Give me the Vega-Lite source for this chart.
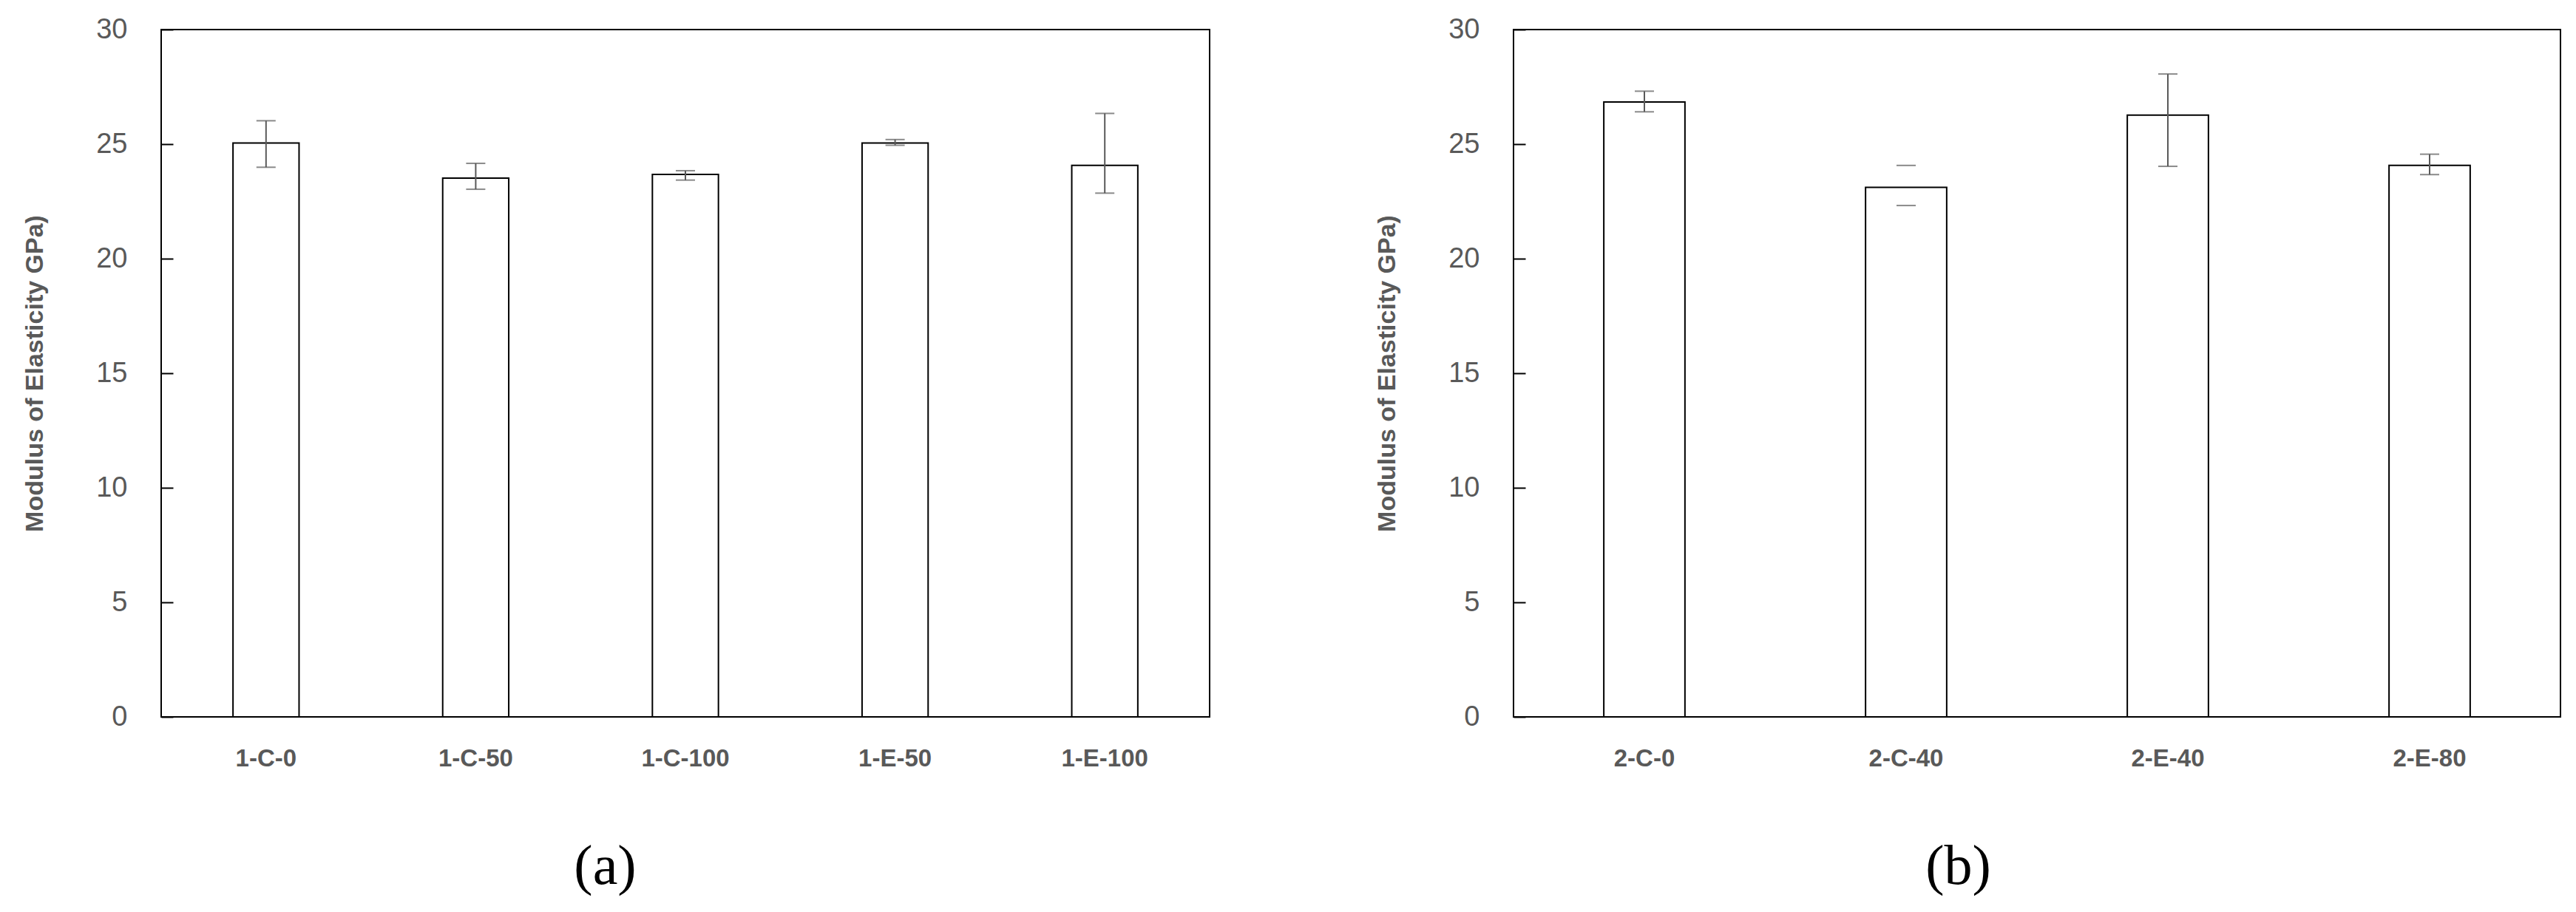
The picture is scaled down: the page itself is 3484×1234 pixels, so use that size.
{
  "$schema": "https://vega.github.io/schema/vega-lite/v6.json",
  "background": "white",
  "padding": {"left": 29, "top": 20, "right": 3, "bottom": 5},
  "spacing": 221,
  "config": {
    "view": {"stroke": "#000000", "strokeWidth": 2},
    "axis": {"grid": false, "domain": false, "labelColor": "#595959", "titleColor": "#595959"},
    "axisY": {
      "tickSize": -16, "tickColor": "#000000", "tickWidth": 2,
      "labelFont": "Liberation Sans", "labelFontSize": 38, "labelPadding": 62,
      "titleFont": "Liberation Sans", "titleFontSize": 34, "titleFontWeight": "bold", "titlePadding": 65
    },
    "axisX": {
      "ticks": false, "labelAngle": 0,
      "labelFont": "Liberation Sans", "labelFontSize": 33, "labelFontWeight": "bold", "labelPadding": 40,
      "titleFont": "Liberation Serif", "titleFontSize": 76, "titleFontWeight": "normal", "titleColor": "#000000", "titlePadding": 92
    }
  },
  "hconcat": [
    {
      "width": 1418, "height": 930,
      "data": {"values": [
        {"sample": "1-C-0", "modulus": 25.05, "lower": 23.99, "upper": 26.02},
        {"sample": "1-C-50", "modulus": 23.52, "lower": 23.03, "upper": 24.16},
        {"sample": "1-C-100", "modulus": 23.68, "lower": 23.43, "upper": 23.84},
        {"sample": "1-E-50", "modulus": 25.05, "lower": 24.95, "upper": 25.2},
        {"sample": "1-E-100", "modulus": 24.07, "lower": 22.86, "upper": 26.34}
      ]},
      "encoding": {
        "x": {"field": "sample", "type": "nominal", "sort": null,
              "scale": {"paddingInner": 0.685, "paddingOuter": 0.3425},
              "axis": {"title": "(a)", "titleX": 600}}
      },
      "layer": [
        {"mark": {"type": "bar", "fill": "white", "stroke": "black", "strokeWidth": 2},
         "encoding": {"y": {"field": "modulus", "type": "quantitative", "scale": {"domain": [0, 30]}, "title": "Modulus of Elasticity GPa)",
                            "axis": {"values": [0, 5, 10, 15, 20, 25, 30]}}}},
        {"mark": {"type": "rule", "color": "#595959", "strokeWidth": 2},
         "encoding": {"y": {"field": "lower", "type": "quantitative", "title": "Modulus of Elasticity GPa)", "axis": {"values": [0, 5, 10, 15, 20, 25, 30]}}, "y2": {"field": "upper"}}},
        {"mark": {"type": "tick", "color": "#595959", "thickness": 2, "size": 26},
         "encoding": {"y": {"field": "lower", "type": "quantitative", "title": "Modulus of Elasticity GPa)", "axis": {"values": [0, 5, 10, 15, 20, 25, 30]}}}},
        {"mark": {"type": "tick", "color": "#595959", "thickness": 2, "size": 26},
         "encoding": {"y": {"field": "upper", "type": "quantitative", "title": "Modulus of Elasticity GPa)", "axis": {"values": [0, 5, 10, 15, 20, 25, 30]}}}}
      ]
    },
    {
      "width": 1416, "height": 930,
      "data": {"values": [
        {"sample": "2-C-0", "modulus": 26.84, "lower": 26.41, "upper": 27.31},
        {"sample": "2-C-40", "modulus": 23.11, "lower": 22.32, "upper": 24.07},
        {"sample": "2-E-40", "modulus": 26.27, "lower": 24.03, "upper": 28.06},
        {"sample": "2-E-80", "modulus": 24.07, "lower": 23.67, "upper": 24.56}
      ]},
      "encoding": {
        "x": {"field": "sample", "type": "nominal", "sort": null,
              "scale": {"paddingInner": 0.69, "paddingOuter": 0.345},
              "axis": {"title": "(b)", "titleX": 601}}
      },
      "layer": [
        {"mark": {"type": "bar", "fill": "white", "stroke": "black", "strokeWidth": 2},
         "encoding": {"y": {"field": "modulus", "type": "quantitative", "scale": {"domain": [0, 30]}, "title": "Modulus of Elasticity GPa)",
                            "axis": {"values": [0, 5, 10, 15, 20, 25, 30]}}}},
        {"transform": [{"filter": "datum.sample != '2-C-40'"}],
         "mark": {"type": "rule", "color": "#595959", "strokeWidth": 2},
         "encoding": {"y": {"field": "lower", "type": "quantitative", "title": "Modulus of Elasticity GPa)", "axis": {"values": [0, 5, 10, 15, 20, 25, 30]}}, "y2": {"field": "upper"}}},
        {"mark": {"type": "tick", "color": "#595959", "thickness": 2, "size": 26},
         "encoding": {"y": {"field": "lower", "type": "quantitative", "title": "Modulus of Elasticity GPa)", "axis": {"values": [0, 5, 10, 15, 20, 25, 30]}}}},
        {"mark": {"type": "tick", "color": "#595959", "thickness": 2, "size": 26},
         "encoding": {"y": {"field": "upper", "type": "quantitative", "title": "Modulus of Elasticity GPa)", "axis": {"values": [0, 5, 10, 15, 20, 25, 30]}}}}
      ]
    }
  ]
}
